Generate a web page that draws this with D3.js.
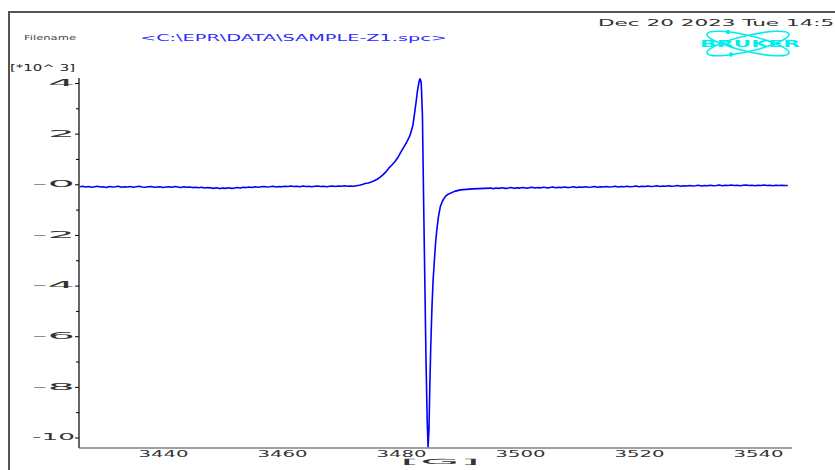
<!DOCTYPE html>
<html><head><meta charset="utf-8">
<script src="https://cdn.jsdelivr.net/npm/d3@7"></script>
<style>body{margin:0;background:#fff}svg{display:block}</style>
</head><body><svg id="c" width="835" height="470"></svg>
<script>
// ---- data ----
const xTickValues = [3440, 3460, 3480, 3500, 3520, 3540];
const xTickLabels = ["3440", "3460", "3480", "3500", "3520", "3540"];
const yTickValues = [4, 2, 0, -2, -4, -6, -8, -10];
const yTickLabels = ["4", "2", "-0", "-2", "-4", "-6", "-8", "-10"];
const yMinorTicks = [3, 1, -1, -3, -5, -7, -9];
const headerLabel = "Filename";
const fileName = "<C:\\EPR\\DATA\\SAMPLE-Z1.spc>";
const dateText = "Dec 20 2023  Tue 14:52";
const yTitle = "[*10^ 3]";
const xTitle = "[G]";
// spectrum: [field (G), signal]
const spectrum = [
[3426,-0.10],[3426.5,-0.08],[3427,-0.11],[3427.5,-0.09],[3428,-0.12],[3428.5,-0.10],[3429,-0.08],[3429.5,-0.11],
[3430,-0.10],[3430.5,-0.13],[3431,-0.09],[3431.5,-0.11],[3432,-0.10],[3432.5,-0.08],[3433,-0.12],[3433.5,-0.10],
[3434,-0.11],[3434.5,-0.09],[3435,-0.12],[3435.5,-0.10],[3436,-0.08],[3436.5,-0.11],[3437,-0.12],[3437.5,-0.10],
[3438,-0.09],[3438.5,-0.12],[3439,-0.11],[3439.5,-0.10],[3440,-0.13],[3440.5,-0.11],[3441,-0.10],[3441.5,-0.12],
[3442,-0.09],[3442.5,-0.11],[3443,-0.13],[3443.5,-0.10],[3444,-0.12],[3444.5,-0.11],[3445,-0.13],[3445.5,-0.12],
[3446,-0.14],[3446.5,-0.12],[3447,-0.15],[3447.5,-0.13],[3448,-0.14],[3448.5,-0.16],[3449,-0.14],[3449.5,-0.17],
[3450,-0.15],[3450.5,-0.16],[3451,-0.14],[3451.5,-0.16],[3452,-0.15],[3452.5,-0.13],[3453,-0.15],[3453.5,-0.12],
[3454,-0.13],[3454.5,-0.11],[3455,-0.13],[3455.5,-0.10],[3456,-0.12],[3456.5,-0.10],[3457,-0.09],[3457.5,-0.11],
[3458,-0.10],[3458.5,-0.08],[3459,-0.11],[3459.5,-0.09],[3460,-0.10],[3460.5,-0.08],[3461,-0.09],[3461.5,-0.07],
[3462,-0.09],[3462.5,-0.08],[3463,-0.10],[3463.5,-0.07],[3464,-0.09],[3464.5,-0.08],[3465,-0.10],[3465.5,-0.08],
[3466,-0.07],[3466.5,-0.09],[3467,-0.08],[3467.5,-0.10],[3468,-0.08],[3468.5,-0.07],[3469,-0.09],[3469.5,-0.07],
[3470,-0.08],[3470.5,-0.06],[3471,-0.08],[3471.5,-0.07],
[3472,-0.08],[3472.5,-0.06],[3473,-0.04],[3473.5,-0.01],[3474,0.03],[3474.5,0.05],[3475,0.09],[3475.5,0.14],
[3476,0.20],[3476.5,0.28],[3477,0.38],[3477.5,0.50],[3478,0.65],[3478.5,0.77],[3479,0.90],[3479.5,1.07],
[3480,1.28],[3480.5,1.48],[3481,1.68],[3481.5,1.92],[3482,2.33],[3482.25,2.75],[3482.5,3.18],[3482.75,3.66],
[3483,4.01],[3483.1,4.11],[3483.2,4.16],[3483.3,4.11],[3483.4,4.01],[3483.6,2.75],[3483.8,-0.61],[3484,-3.77],
[3484.2,-6.90],[3484.4,-9.31],[3484.55,-10.36],[3484.7,-9.70],[3484.85,-7.92],[3485,-6.42],[3485.2,-4.88],[3485.4,-3.77],
[3485.6,-3.06],[3485.8,-2.35],[3486,-1.84],[3486.3,-1.28],[3486.6,-0.89],[3487,-0.65],[3487.5,-0.47],[3488,-0.38],
[3489,-0.28],[3490,-0.22],[3492,-0.18],[3494,-0.16],
[3495,-0.15],[3495.5,-0.17],[3496,-0.15],[3496.5,-0.16],[3497,-0.14],[3497.5,-0.16],[3498,-0.15],[3498.5,-0.13],
[3499,-0.16],[3499.5,-0.14],[3500,-0.15],[3500.5,-0.13],[3501,-0.15],[3501.5,-0.14],[3502,-0.12],[3502.5,-0.15],
[3503,-0.13],[3503.5,-0.14],[3504,-0.12],[3504.5,-0.14],[3505,-0.13],[3505.5,-0.11],[3506,-0.14],[3506.5,-0.12],
[3507,-0.13],[3507.5,-0.11],[3508,-0.13],[3508.5,-0.12],[3509,-0.10],[3509.5,-0.13],[3510,-0.11],[3510.5,-0.12],
[3511,-0.10],[3511.5,-0.12],[3512,-0.11],[3512.5,-0.09],[3513,-0.12],[3513.5,-0.10],[3514,-0.11],[3514.5,-0.09],
[3515,-0.11],[3515.5,-0.10],[3516,-0.08],[3516.5,-0.11],[3517,-0.09],[3517.5,-0.10],[3518,-0.08],[3518.5,-0.10],
[3519,-0.09],[3519.5,-0.07],[3520,-0.10],[3520.5,-0.08],[3521,-0.09],[3521.5,-0.07],[3522,-0.09],[3522.5,-0.08],
[3523,-0.06],[3523.5,-0.09],[3524,-0.07],[3524.5,-0.08],[3525,-0.06],[3525.5,-0.08],[3526,-0.07],[3526.5,-0.05],
[3527,-0.08],[3527.5,-0.06],[3528,-0.07],[3528.5,-0.05],[3529,-0.07],[3529.5,-0.06],[3530,-0.04],[3530.5,-0.07],
[3531,-0.05],[3531.5,-0.06],[3532,-0.04],[3532.5,-0.06],[3533,-0.05],[3533.5,-0.03],[3534,-0.06],[3534.5,-0.04],
[3535,-0.05],[3535.5,-0.03],[3536,-0.05],[3536.5,-0.04],[3537,-0.06],[3537.5,-0.04],[3538,-0.03],[3538.5,-0.05],
[3539,-0.04],[3539.5,-0.06],[3540,-0.04],[3540.5,-0.05],[3541,-0.03],[3541.5,-0.05],[3542,-0.04],[3542.5,-0.06],
[3543,-0.04],[3543.5,-0.05],[3544,-0.04],[3544.5,-0.05],[3545,-0.05]
];

// ---- drawing ----
const svg = d3.select("#c");
const FONT = "DejaVu Sans, Arial, sans-serif";
const x = d3.scaleLinear().domain([3440, 3540]).range([163, 758]);
const y = d3.scaleLinear().domain([-10, 4]).range([437.5, 83]);
const plotLeft = 79, plotRight = 792, plotTop = 78, plotBottom = 448;

// outer frame
svg.append("line").attr("x1", 8).attr("x2", 835).attr("y1", 12).attr("y2", 12)
  .attr("stroke", "#555").attr("stroke-width", 2);
svg.append("line").attr("x1", 9).attr("x2", 9).attr("y1", 11).attr("y2", 470)
  .attr("stroke", "#555").attr("stroke-width", 2);

// header texts
svg.append("text").attr("x", 24).attr("y", 40).attr("font-family", FONT).attr("font-size", 7)
  .attr("fill", "#444").attr("textLength", 52).attr("lengthAdjust", "spacingAndGlyphs").text(headerLabel);
svg.append("text").attr("x", 140).attr("y", 41).attr("font-family", FONT).attr("font-size", 9)
  .attr("fill", "#2a2aff").attr("textLength", 307).attr("lengthAdjust", "spacingAndGlyphs").text(fileName);
svg.append("text").attr("x", 598).attr("y", 26).attr("font-family", FONT).attr("font-size", 8)
  .attr("fill", "#333").attr("textLength", 250).attr("lengthAdjust", "spacingAndGlyphs").text(dateText);
svg.append("text").attr("x", 10).attr("y", 71).attr("font-family", FONT).attr("font-size", 8)
  .attr("fill", "#222").attr("textLength", 65).attr("lengthAdjust", "spacingAndGlyphs").text(yTitle);

// Bruker logo
const logo = svg.append("g").attr("transform", "translate(748,43.5)");
logo.append("ellipse").attr("rx", 42).attr("ry", 8).attr("transform", "rotate(13)")
  .attr("fill", "none").attr("stroke", "#00eeee").attr("stroke-width", 1.6);
logo.append("ellipse").attr("rx", 42).attr("ry", 8).attr("transform", "rotate(-13)")
  .attr("fill", "none").attr("stroke", "#00eeee").attr("stroke-width", 1.6);
logo.append("circle").attr("cx", -20).attr("cy", -11.5).attr("r", 2.2).attr("fill", "#00eeee");
logo.append("circle").attr("cx", -17).attr("cy", 11).attr("r", 2.2).attr("fill", "#00eeee");
logo.append("text").attr("x", 2).attr("y", 3).attr("text-anchor", "middle").attr("font-family", FONT)
  .attr("font-weight", "900").attr("font-size", 9).attr("fill", "#00eeee")
  .attr("textLength", 100).attr("lengthAdjust", "spacingAndGlyphs").text("BRUKER");

// axes lines
svg.append("line").attr("x1", plotLeft).attr("x2", plotLeft).attr("y1", plotTop).attr("y2", plotBottom)
  .attr("stroke", "#000").attr("stroke-width", 1.2);
svg.append("line").attr("x1", plotLeft).attr("x2", plotRight).attr("y1", plotBottom).attr("y2", plotBottom)
  .attr("stroke", "#444").attr("stroke-width", 1.2);

// y ticks
const yAxis = d3.axisLeft(y).tickValues(yTickValues).tickSize(4).tickFormat((d, i) => yTickLabels[i]);
const gy = svg.append("g").attr("transform", `translate(${plotLeft},0)`).call(yAxis);
gy.select(".domain").remove();
gy.selectAll("text").attr("font-family", FONT).attr("font-size", 8).attr("fill", "#333")
  .attr("x", -4).attr("dy", "0.3em")
  .attr("textLength", (d, i) => yTickLabels[i].startsWith("-") ? 43 : 27)
  .attr("lengthAdjust", "spacingAndGlyphs");
const gyMinor = svg.append("g").attr("transform", `translate(${plotLeft},0)`)
  .call(d3.axisLeft(y).tickValues(yMinorTicks).tickSize(3).tickFormat(""));
gyMinor.select(".domain").remove();

// x labels
const xAxis = d3.axisBottom(x).tickValues(xTickValues).tickSize(0).tickFormat((d, i) => xTickLabels[i]);
const gx = svg.append("g").attr("transform", `translate(0,${plotBottom})`).call(xAxis);
gx.select(".domain").remove();
gx.selectAll("text").attr("font-family", FONT).attr("font-size", 8).attr("fill", "#333")
  .attr("y", 4).attr("dy", "0.6em")
  .attr("textLength", 50).attr("lengthAdjust", "spacingAndGlyphs");
svg.append("text").attr("x", 440).attr("y", 464).attr("text-anchor", "middle").attr("font-family", FONT)
  .attr("font-size", 7).attr("fill", "#333").attr("textLength", 80).attr("lengthAdjust", "spacingAndGlyphs").text(xTitle);

// spectrum line
const line = d3.line().x(d => x(d[0])).y(d => y(d[1]));
svg.append("path").datum(spectrum).attr("d", line).attr("fill", "none")
  .attr("stroke", "#0000ff").attr("stroke-width", 1.6).attr("stroke-linejoin", "round");
</script></body></html>
